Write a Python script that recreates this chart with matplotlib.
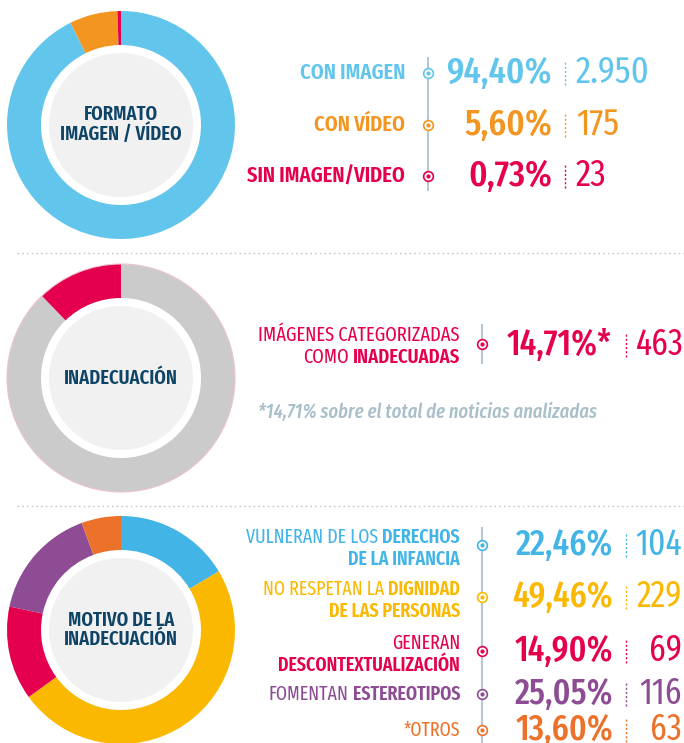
import matplotlib
matplotlib.use('Agg')
import matplotlib.pyplot as plt
from matplotlib.patches import Circle

# --- datos ---
formato_labels = ['CON IMAGEN', 'CON VÍDEO', 'SIN IMAGEN/VIDEO']
formato_pct = [94.40, 5.60, 0.73]
formato_count = [2950, 175, 23]
formato_arc = [92.7, 6.8, 0.5]          # reparto tal como se dibuja en el anillo
formato_colors = ['#62c6ec', '#f39621', '#e5004f']

inadec_label = [[('IMÁGENES CATEGORIZADAS', False)],
                [('COMO', False), ('INADECUADAS', True)]]
inadec_pct = 14.71
inadec_count = 463
inadec_arc = [87.8, 12.2]
inadec_colors = ['#cbcbcb', '#e5004f']
inadec_note = '*14,71% sobre el total de noticias analizadas'

motivo_labels = [
    [[('VULNERAN DE LOS', False), ('DERECHOS', True)], [('DE LA INFANCIA', True)]],
    [[('NO RESPETAN LA', False), ('DIGNIDAD', True)], [('DE LAS PERSONAS', True)]],
    [[('GENERAN', False)], [('DESCONTEXTUALIZACIÓN', True)]],
    [[('FOMENTAN', False), ('ESTEREOTIPOS', True)]],
    [[('*OTROS', False)]],
]
motivo_pct = [22.46, 49.46, 14.90, 25.05, 13.60]
motivo_count = [104, 229, 69, 116, 63]
motivo_arc = [16.4, 48.6, 13.3, 16.1, 5.6]
motivo_colors = ['#42b4e6', '#fbb800', '#e4004f', '#8d4c93', '#ec712a']

W, H = 684, 743
FONT = ['Fira Sans Extra Condensed', 'Fira Sans Condensed', 'DejaVu Sans']
NAVY = '#0f4467'
LINE = '#b5c8d4'


def fmt_pct(v):
    return f'{v:.2f}'.replace('.', ',') + '%'


def fmt_count(n):
    return f'{n:,}'.replace(',', '.')


def Y(v):
    return H - v


def donut(ax, cy, arc, colors, title, edge=None):
    ax.pie(arc, colors=colors, center=(121, Y(cy)), radius=114,
           startangle=90, counterclock=False,
           wedgeprops=dict(width=34, linewidth=0))
    if edge:
        ax.add_patch(Circle((121, Y(cy)), 114, facecolor='none',
                            edgecolor=edge, lw=0.8))
    ax.add_patch(Circle((121, Y(cy)), 72, facecolor='#f1f1f1',
                        edgecolor='none'))
    ax.text(121, Y(cy), title, ha='center', va='center', fontsize=14.5,
            fontweight=600, color=NAVY, family=FONT, linespacing=1.0)


def rich_right(ax, rend, x, y, parts, size, color):
    cur = x
    for txt, bold in reversed(parts):
        t = ax.text(cur, Y(y), txt, ha='right', va='center', fontsize=size,
                    color=color, family=FONT,
                    fontweight=600 if bold else 400)
        cur -= t.get_window_extent(rend).width + 4


def marker(ax, x, y, color):
    ax.plot([x], [Y(y)], 'o', ms=7, mfc='white', mec=color, mew=1.2)
    ax.plot([x], [Y(y)], 'o', ms=3, color=color, mew=0)


def dash(ax, x, y, color):
    ax.plot([x, x], [Y(y) - 12, Y(y) + 12], color=color, lw=1,
            linestyle=(0, (1.5, 1.5)))


fig = plt.figure(figsize=(W / 100, H / 100), dpi=100)
ax = fig.add_axes([0, 0, 1, 1])
rend = fig.canvas.get_renderer()

# anillos
donut(ax, 125, formato_arc, formato_colors, 'FORMATO\nIMAGEN / VÍDEO')
donut(ax, 378, inadec_arc, inadec_colors, 'INADECUACIÓN', edge='#ecc2d0')
donut(ax, 630, motivo_arc, motivo_colors, 'MOTIVO DE LA\nINADECUACIÓN')

ax.set_xlim(0, W)
ax.set_ylim(0, H)
ax.set_aspect('auto')
ax.axis('off')

# separadores
for sy in (253, 506):
    ax.plot([17, W], [Y(sy), Y(sy)], color='#c8c8c8', lw=1,
            linestyle=(0, (1.2, 2.2)))

# bloque 1
rows1 = [73, 125, 176]
ax.plot([428, 428], [Y(58), Y(190)], color=LINE, lw=1.5)
for lab, p, n, c, y in zip(formato_labels, formato_pct, formato_count,
                           formato_colors, rows1):
    ax.text(405, Y(y), lab, ha='right', va='center', fontsize=16,
            fontweight=600, color=c, family=FONT)
    marker(ax, 428, y, c)
    ax.text(552, Y(y), fmt_pct(p), ha='right', va='center', fontsize=27,
            fontweight=500, color=c, family=FONT)
    dash(ax, 565, y, c)
    ax.text(576, Y(y), fmt_count(n), ha='left', va='center', fontsize=27,
            fontweight=400, color=c, family=FONT)

# bloque 2
c2 = inadec_colors[1]
ax.plot([482, 482], [Y(325), Y(363)], color=LINE, lw=1.5)
for line, ly in zip(inadec_label, (335, 357)):
    rich_right(ax, rend, 460, ly, line, 14.5, c2)
marker(ax, 482, 344, c2)
ax.text(612, Y(345), fmt_pct(inadec_pct) + '*', ha='right', va='center',
        fontsize=26, fontweight=500, color=c2, family=FONT)
dash(ax, 626, 345, c2)
ax.text(636, Y(345), fmt_count(inadec_count), ha='left', va='center',
        fontsize=26, fontweight=400, color=c2, family=FONT)
ax.text(258, Y(412), inadec_note, ha='left', va='center', fontsize=14.5,
        fontweight=500, fontstyle='italic', color='#a9bfca', family=FONT)

# bloque 3
rows3 = [545, 597, 651, 694, 730]
ax.plot([482, 482], [Y(528), 0], color=LINE, lw=1.5)
for lines, p, n, c, y in zip(motivo_labels, motivo_pct, motivo_count,
                             motivo_colors, rows3):
    if len(lines) == 2:
        offs = (-7.5, 14)
    else:
        offs = (0,)
    for line, o in zip(lines, offs):
        rich_right(ax, rend, 460, y + o, line, 14, c)
    marker(ax, 482, y, c)
    ax.text(613, Y(y), fmt_pct(p), ha='right', va='center', fontsize=26,
            fontweight=500, color=c, family=FONT)
    dash(ax, 626, y, c)
    ax.text(682, Y(y), fmt_count(n), ha='right', va='center', fontsize=26,
            fontweight=400, color=c, family=FONT)

fig.savefig('out.png', dpi=100)
